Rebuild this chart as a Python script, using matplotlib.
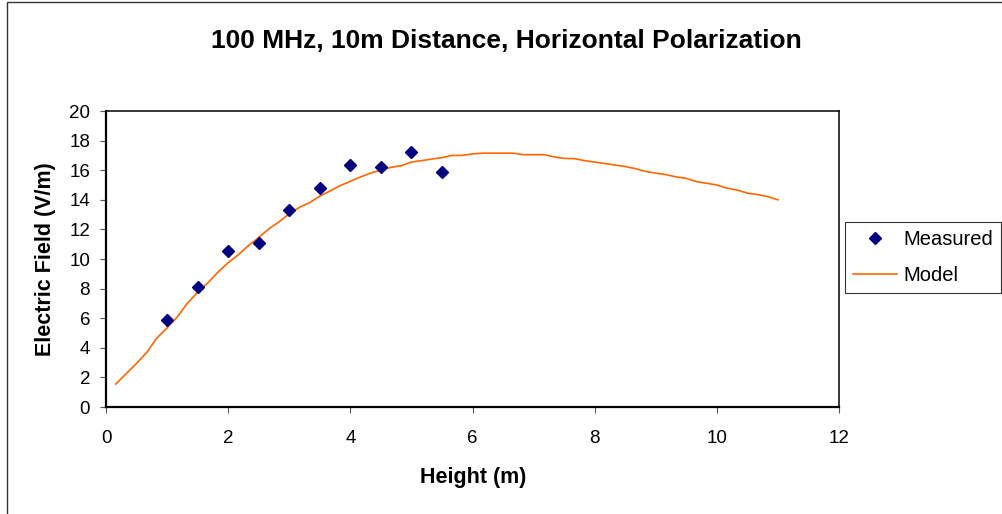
import matplotlib.pyplot as plt
from matplotlib.patches import Rectangle

plt.rcParams['font.family'] = ['Liberation Sans', 'DejaVu Sans']

# measured field strength vs. antenna height
meas_h = [1.0, 1.5, 2.0, 2.5, 3.0, 3.5, 4.0, 4.5, 5.0, 5.5]
meas_e = [5.86, 8.09, 10.54, 11.1, 13.31, 14.78, 16.35, 16.22, 17.25, 15.9]

# model curve
model_h = [0.16, 0.33, 0.50, 0.67, 0.83, 1.00, 1.17, 1.33, 1.50, 1.67, 1.83,
           2.00, 2.17, 2.33, 2.50, 2.67, 2.83, 3.00, 3.17, 3.33, 3.50, 3.67,
           3.83, 4.00, 4.17, 4.33, 4.50, 4.67, 4.83, 5.00, 5.17, 5.33, 5.50,
           5.67, 5.83, 6.00, 6.17, 6.33, 6.50, 6.67, 6.83, 7.00, 7.17, 7.33,
           7.50, 7.67, 7.83, 8.00, 8.17, 8.33, 8.50, 8.67, 8.83, 9.00, 9.17,
           9.33, 9.50, 9.67, 9.83, 10.00, 10.17, 10.33, 10.50, 10.67, 10.83,
           11.00]
model_e = [1.55, 2.25, 2.95, 3.70, 4.65, 5.35, 6.10, 7.00, 7.75, 8.40, 9.10,
           9.75, 10.30, 10.90, 11.45, 12.05, 12.50, 13.05, 13.50, 13.80, 14.25,
           14.60, 14.95, 15.25, 15.55, 15.80, 16.00, 16.20, 16.30, 16.55, 16.65,
           16.75, 16.85, 17.00, 17.00, 17.10, 17.15, 17.15, 17.15, 17.15, 17.05,
           17.05, 17.05, 16.90, 16.80, 16.78, 16.65, 16.55, 16.45, 16.35, 16.25,
           16.10, 15.92, 15.80, 15.70, 15.55, 15.45, 15.22, 15.12, 15.00, 14.78,
           14.66, 14.45, 14.35, 14.22, 14.00]

x_ticks = [0, 2, 4, 6, 8, 10, 12]
y_ticks = [0, 2, 4, 6, 8, 10, 12, 14, 16, 18, 20]

fig = plt.figure(figsize=(10.02, 5.14), dpi=100)
W, H = 1002, 514
ax = fig.add_axes([106 / W, 1 - 407 / H, 733 / W, 296 / H])

ax.plot(meas_h, meas_e, linestyle='none', marker='D', markersize=6.5,
        color='#000080', label='Measured', zorder=3)
ax.plot(model_h, model_e, color='#FF6600', linewidth=1.2, label='Model')

ax.set_xlim(0, 12)
ax.set_ylim(0, 20)
ax.set_xticks(x_ticks)
ax.set_yticks(y_ticks)
ax.tick_params(axis='both', direction='out', length=4.5, width=0.8,
               color='#555555', labelsize=13.5)
ax.tick_params(axis='x', pad=12)
ax.tick_params(axis='y', pad=7)

for side in ['left', 'bottom']:
    ax.spines[side].set_linewidth(1.6)
for side in ['top', 'right']:
    ax.spines[side].set_linewidth(1.1)

fig.suptitle('100 MHz, 10m Distance, Horizontal Polarization',
             x=506 / W, y=1 - 41 / H, va='center', fontsize=19, fontweight='bold')
fig.text(473 / W, 1 - 477 / H, 'Height (m)', ha='center', va='center',
         fontsize=15.5, fontweight='bold')
fig.text(46 / W, 1 - 259 / H, 'Electric Field (V/m)', ha='center', va='center',
         rotation=90, fontsize=15.5, fontweight='bold')

leg = ax.legend(loc='upper left', bbox_to_anchor=(845 / W, 1 - 222 / H),
                bbox_transform=fig.transFigure, fontsize=14.5, frameon=True,
                fancybox=False, edgecolor='black', handlelength=2.2,
                handletextpad=0.3, borderpad=0.4, labelspacing=0.85,
                borderaxespad=0)
leg.get_frame().set_linewidth(0.8)

# chart area border
fig.patches.append(Rectangle((7 / W, -0.1), 1.2, 1.1 - 2 / H, transform=fig.transFigure,
                             fill=False, edgecolor='#333333', linewidth=1.0))

fig.savefig('out.png', dpi=100)
